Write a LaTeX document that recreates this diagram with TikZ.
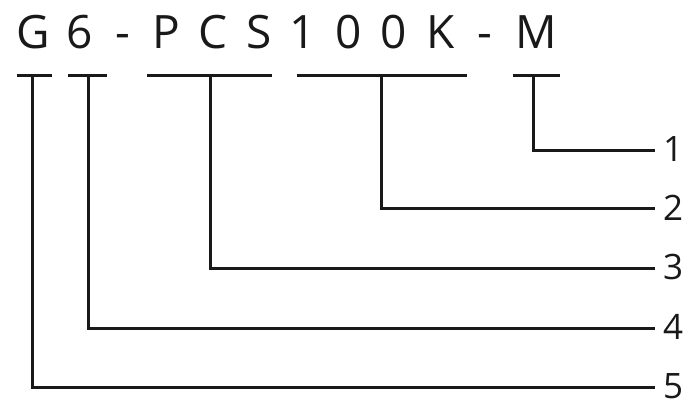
\documentclass[tikz,border=0pt]{standalone}
\usepackage{fontspec}
\setmainfont{Open Sans}
\begin{document}
\begin{tikzpicture}[x=1pt,y=-1pt,
  ch/.style={font=\fontsize{46}{46}\selectfont, inner sep=0pt, anchor=base, text=black!90},
  num/.style={font=\fontsize{35}{35}\selectfont, inner sep=0pt, text=black!90},
  ln/.style={line width=3pt, draw=black!90}]
\useasboundingbox (0,0) rectangle (692,405);
% code characters
\node[ch] (cG) at (33,48) {G};
\node[ch] (c6) at (80,48) {6};
\node[ch] (cd1) at (123,48) {-};
\node[ch] (cP) at (166,48) {P};
\node[ch] (cC) at (213,48) {C};
\node[ch] (cS) at (259,48) {S};
\node[ch] (c1) at (303,48) {1};
\node[ch] (c0a) at (349,48) {0};
\node[ch] (c0b) at (394,48) {0};
\node[ch] (cK) at (441,48) {K};
\node[ch] (cd2) at (485,48) {-};
\node[ch] (cM) at (536,48) {M};
% underlines
\coordinate (uGa) at (17,75);  \coordinate (uGb) at (52,75);
\coordinate (u6a) at (68,75);  \coordinate (u6b) at (107,75);
\coordinate (uPa) at (147,75); \coordinate (uPb) at (272,75);
\coordinate (u1a) at (297,75); \coordinate (u1b) at (467,75);
\coordinate (uMa) at (513,75); \coordinate (uMb) at (560,75);
\draw[ln] (uGa) -- (uGb);
\draw[ln] (u6a) -- (u6b);
\draw[ln] (uPa) -- (uPb);
\draw[ln] (u1a) -- (u1b);
\draw[ln] (uMa) -- (uMb);
% stems
\coordinate (vG) at (32,75);
\coordinate (v6) at (88,75);
\coordinate (vP) at (210,75);
\coordinate (v1) at (381,75);
\coordinate (vM) at (533,75);
% line ends
\coordinate (e1) at (655,150);
\coordinate (e2) at (655,208);
\coordinate (e3) at (655,268);
\coordinate (e4) at (655,328);
\coordinate (e5) at (655,387);
% labels
\node[num] (n1) at (673,149) {1};
\node[num] (n2) at (673,208) {2};
\node[num] (n3) at (673,267) {3};
\node[num] (n4) at (673,327) {4};
\node[num] (n5) at (673,386) {5};
% connectors
\draw[ln] (vM) |- (e1);
\draw[ln] (v1) |- (e2);
\draw[ln] (vP) |- (e3);
\draw[ln] (v6) |- (e4);
\draw[ln] (vG) |- (e5);
\end{tikzpicture}
\end{document}
